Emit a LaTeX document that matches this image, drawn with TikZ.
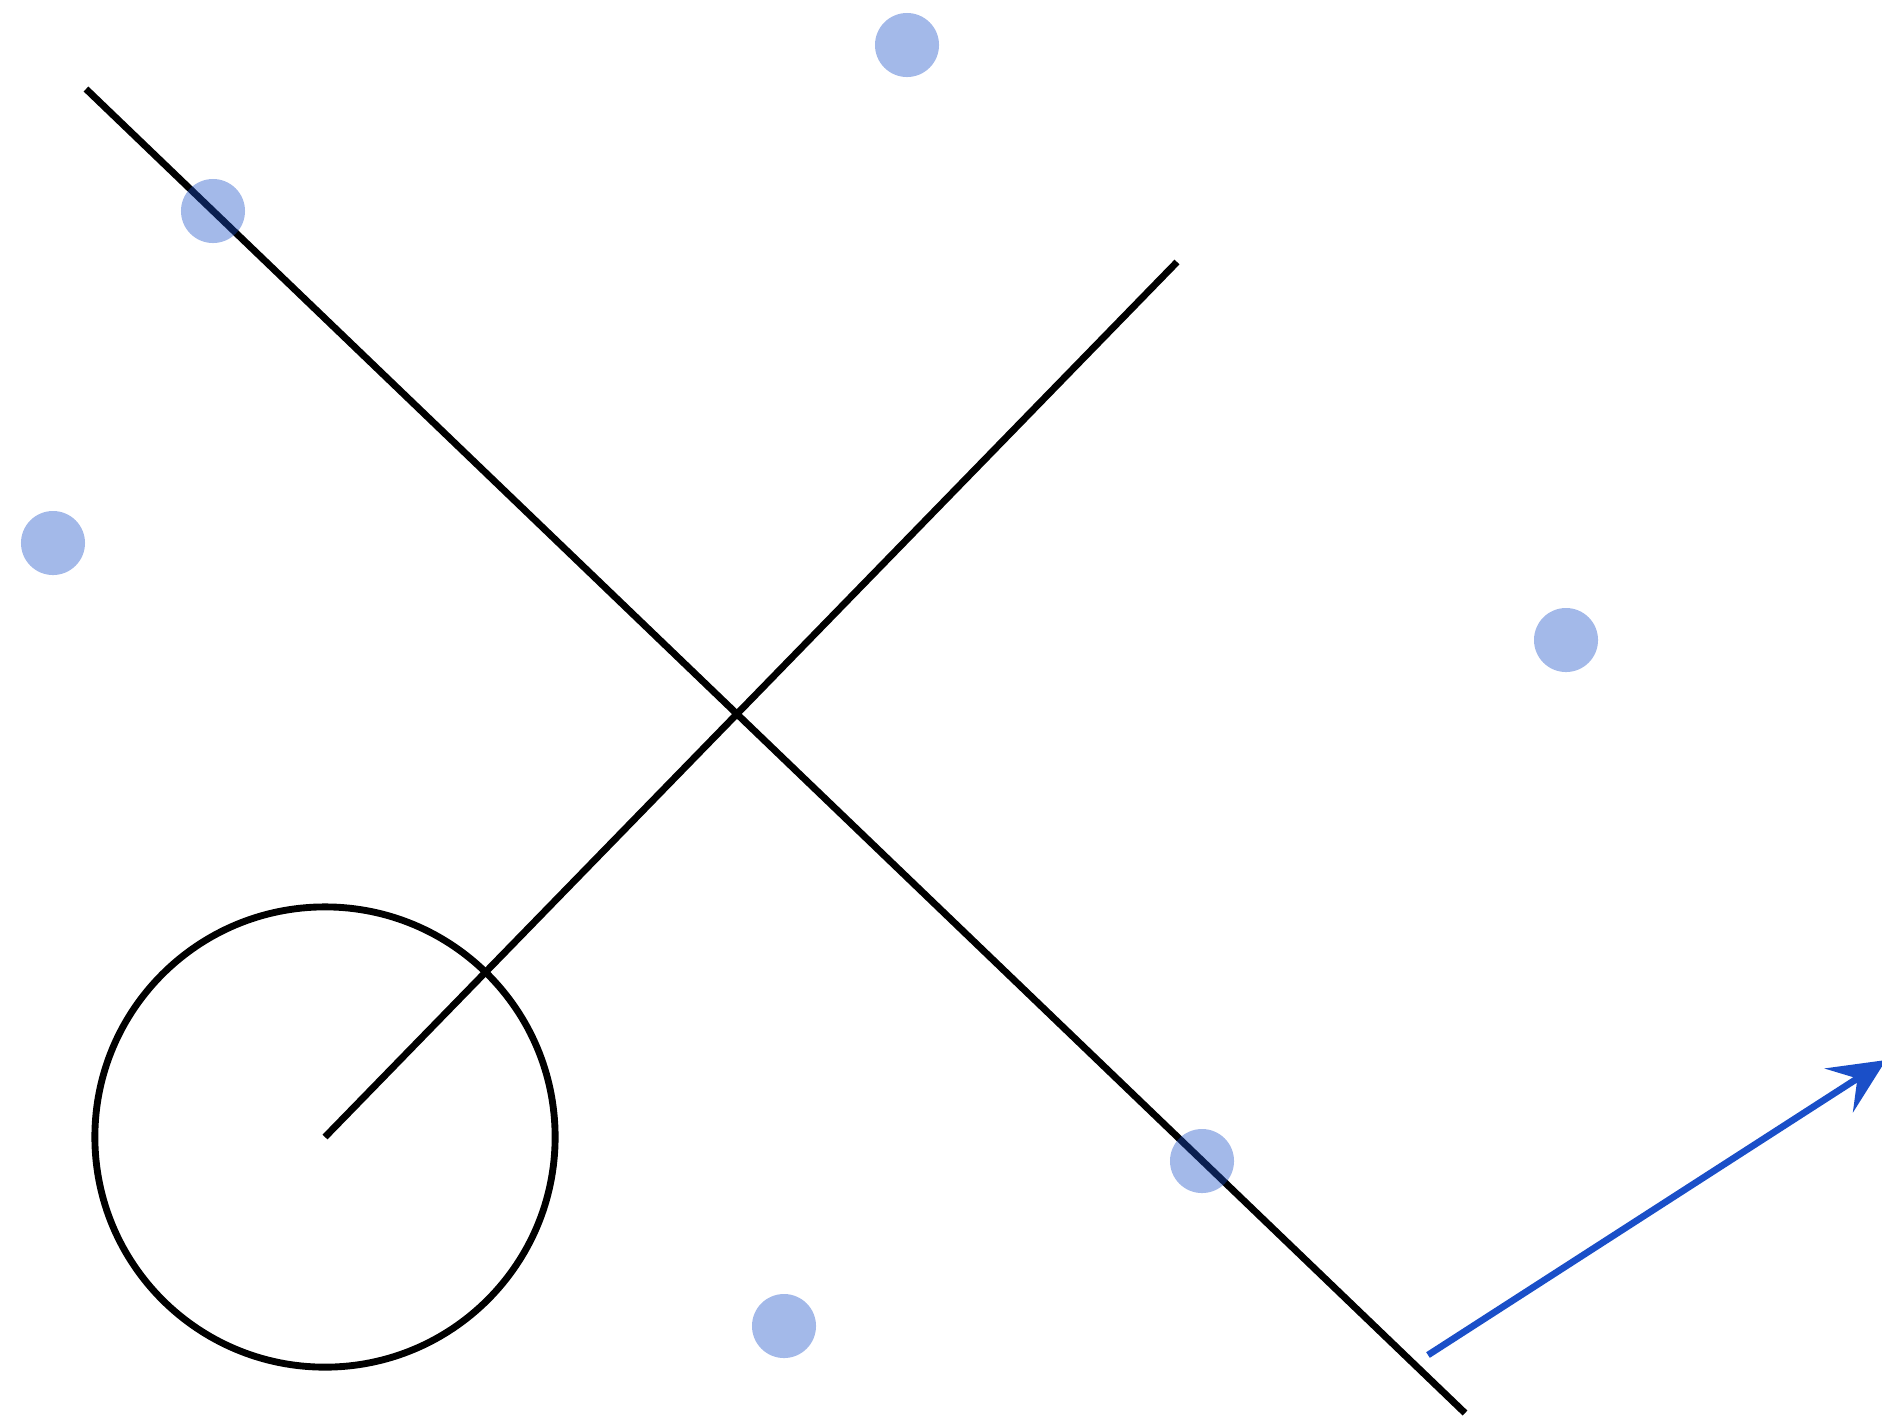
\documentclass[tikz,border=0pt]{standalone}
\usepackage{tikz}
\usetikzlibrary{arrows.meta}

\definecolor{svmblue}{HTML}{1A4FC8}

\begin{document}
\begin{tikzpicture}[x=0.01cm,y=-0.01cm]
\useasboundingbox (0,0) rectangle (1882,1417);
\begin{scope}[every node/.style={circle,inner sep=0pt,outer sep=0pt}]
    \coordinate (a1) at (86,89);
    \coordinate (a2) at (1465,1413);
    \coordinate (c) at (325,1137);
    \coordinate (b2) at (1177,262);
    \coordinate (w0) at (1428,1355);
    \coordinate (w1) at (1886,1060);
    \node (ball) [draw,line width=1.95pt,minimum size=4.6cm] at (c) {};
\end{scope}
\begin{scope}[>={Stealth[length=5.6mm,width=5.2mm,inset=2.2mm]},
              black_line/.style={draw=black,line width=1.95pt},
              blue_line/.style={draw=svmblue,line width=1.9pt}]
    \path (a1) edge [black_line] (a2);
    \path (c) edge [black_line] (b2);
    \path [->] (w0) edge [blue_line] (w1);
\end{scope}
\begin{scope}[every node/.style={circle,fill=svmblue,fill opacity=0.4,
              inner sep=0pt,minimum size=0.64cm}]
    \node (p1) at (907,45) {};
    \node (p2) at (213,211) {};
    \node (p3) at (53,543) {};
    \node (p4) at (1566,640) {};
    \node (p5) at (1202,1161) {};
    \node (p6) at (784,1326) {};
\end{scope}
\end{tikzpicture}
\end{document}
